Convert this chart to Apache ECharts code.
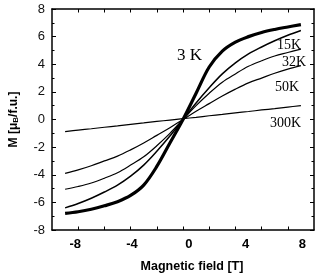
<!DOCTYPE html>
<html>
<head>
<meta charset="utf-8">
<script src="https://cdn.jsdelivr.net/npm/echarts@6/dist/echarts.min.js"></script>
<style>
  html, body { margin: 0; padding: 0; background: #fff; }
  #main { width: 320px; height: 278px; }
</style>
</head>
<body>
<div id="main"></div>
<script>
// magnetic field [T]
const field = [-9, -8, -7, -6, -5, -4, -3, -2, -1, 0, 1, 2, 3, 4, 5, 6, 7, 8, 9];

// magnetization M [muB/f.u.] per temperature
const m3K = [-6.8, -6.68, -6.5, -6.25, -5.95, -5.5, -4.75, -3.4, -1.7, 0, 1.9, 3.8, 4.95, 5.6, 6.0, 6.3, 6.52, 6.7, 6.87];
const m15K = [-6.4, -6.08, -5.7, -5.25, -4.75, -4.1, -3.3, -2.3, -1.2, 0, 1.2, 2.3, 3.3, 4.1, 4.75, 5.25, 5.7, 6.1, 6.44];
const m32K = [-5.05, -4.85, -4.6, -4.25, -3.85, -3.3, -2.7, -1.9, -1.0, 0, 1.0, 1.9, 2.7, 3.3, 3.85, 4.25, 4.6, 4.85, 5.1];
const m50K = [-3.9, -3.65, -3.35, -3.0, -2.65, -2.2, -1.7, -1.15, -0.6, 0, 0.6, 1.15, 1.7, 2.2, 2.65, 3.0, 3.35, 3.65, 3.9];
const m300K = [-0.88, -0.77, -0.67, -0.56, -0.46, -0.35, -0.25, -0.14, -0.04, 0.06, 0.16, 0.27, 0.37, 0.48, 0.58, 0.69, 0.79, 0.9, 1.0];

const xTicks = [-8, -6, -4, -2, 0, 2, 4, 6, 8];
const xLabels = [-8, -4, 0, 4, 8];

const chart = echarts.init(document.getElementById("main"));

function curve(values, width) {
  return {
    type: "line",
    data: field.map((x, i) => [x, values[i]]),
    smooth: 0.35,
    showSymbol: false,
    silent: true,
    lineStyle: { color: "#000", width: width }
  };
}

const boxLine = { show: true, onZero: false, lineStyle: { color: "#000", width: 1.5 } };

chart.setOption({
  animation: false,
  grid: { left: 44, right: 6, top: 9, bottom: 42 },
  xAxis: [
    {
      type: "value", min: -10, max: 10, position: "bottom",
      axisLine: boxLine,
      axisTick: { inside: true, length: 3.5, customValues: xTicks, lineStyle: { color: "#000" } },
      axisLabel: { show: false },
      splitLine: { show: false },
      name: "Magnetic field [T]",
      nameLocation: "middle",
      nameGap: 30,
      nameTextStyle: { fontFamily: "Liberation Sans", fontWeight: "bold", fontSize: 12.5, color: "#000", padding: [0, 0, 0, 18] }
    },
    {
      type: "value", min: -10, max: 10, position: "top",
      axisLine: boxLine,
      axisTick: { inside: true, length: 3.5, customValues: xTicks, lineStyle: { color: "#000" } },
      axisLabel: { show: false },
      splitLine: { show: false }
    },
    {
      // tick labels only, as placed in the original figure
      type: "value", min: -9.64, max: 8.82, position: "bottom",
      axisLine: { show: false, onZero: false },
      axisTick: { show: false },
      splitLine: { show: false },
      axisLabel: {
        customValues: xLabels, margin: 8,
        fontFamily: "Liberation Sans", fontWeight: "bold", fontSize: 13, color: "#000"
      }
    }
  ],
  yAxis: [
    {
      type: "value", min: -8, max: 8, interval: 2, position: "left",
      axisLine: boxLine,
      axisTick: { inside: true, length: 4, lineStyle: { color: "#000" } },
      minorTick: { show: true, splitNumber: 2, length: 2.5, lineStyle: { color: "#000" } },
      axisLabel: { margin: 7, fontFamily: "Liberation Sans", fontSize: 13, color: "#111" },
      splitLine: { show: false },
      name: "{n|M [\u03bc}{s|B}{n|/f.u.]}",
      nameLocation: "middle",
      nameRotate: 90,
      nameGap: 32,
      nameTextStyle: {
        rich: {
          n: { fontFamily: "Liberation Sans", fontWeight: "bold", fontSize: 12, color: "#000", lineHeight: 16, verticalAlign: "bottom" },
          s: { fontFamily: "Liberation Sans", fontWeight: "bold", fontSize: 8, color: "#000", lineHeight: 8, verticalAlign: "bottom" }
        }
      }
    },
    {
      type: "value", min: -8, max: 8, interval: 2, position: "right",
      axisLine: boxLine,
      axisTick: { inside: true, length: 4, lineStyle: { color: "#000" } },
      minorTick: { show: true, splitNumber: 2, length: 2.5, lineStyle: { color: "#000" } },
      axisLabel: { show: false },
      splitLine: { show: false }
    }
  ],
  graphic: [
    { type: "text", left: 177, top: 47, style: { text: "3 K", font: "17px 'Liberation Serif'", fill: "#000" } },
    { type: "text", left: 277, top: 38, style: { text: "15K", font: "14px 'Liberation Serif'", fill: "#000" } },
    { type: "text", left: 282, top: 55, style: { text: "32K", font: "14px 'Liberation Serif'", fill: "#000" } },
    { type: "text", left: 275, top: 80, style: { text: "50K", font: "14px 'Liberation Serif'", fill: "#000" } },
    { type: "text", left: 270, top: 116, style: { text: "300K", font: "14px 'Liberation Serif'", fill: "#000" } }
  ],
  series: [
    curve(m300K, 1.2),
    curve(m50K, 1.2),
    curve(m32K, 1.2),
    curve(m15K, 1.5),
    curve(m3K, 3.2)
  ]
});
</script>
</body>
</html>
